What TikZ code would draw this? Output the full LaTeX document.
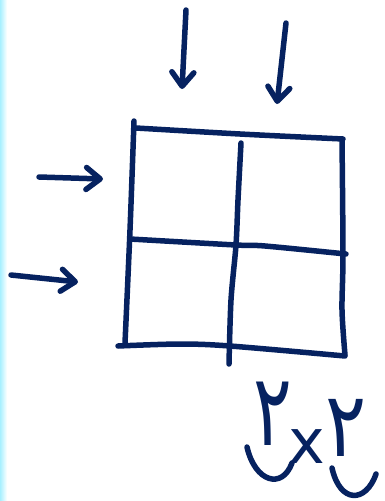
\documentclass[tikz,border=0pt]{standalone}
\usepackage{fontspec}
\usepackage{graphicx}
\usetikzlibrary{arrows.meta}
\newfontfamily\digitfont{DejaVu Sans}
\definecolor{inkblue}{HTML}{062260}
\definecolor{edgecyan}{HTML}{A8F0FF}
\tikzset{
  penline/.style={draw=inkblue, line width=5.5pt, line cap=round, line join=round},
  penarrow/.style={penline, -{Straight Barb[length=14pt,width=22pt,round]}},
  penmark/.style={text=inkblue, inner sep=0pt, font=\digitfont\fontsize{#1}{#1}\selectfont},
}

\begin{document}
\begin{tikzpicture}[x=1pt,y=-1pt]
  \useasboundingbox (0,0) rectangle (385,501);
  \fill[white] (0,0) rectangle (385,501);
  \shade[left color=edgecyan, right color=white] (0,0) rectangle (7,501);

  \coordinate (colA start) at (186,10);
  \coordinate (colA end) at (182,89);
  \coordinate (colB start) at (286,23);
  \coordinate (colB end) at (277,104);
  \coordinate (rowA start) at (39,177);
  \coordinate (rowA end) at (103,179);
  \coordinate (rowB start) at (11,275);
  \coordinate (rowB end) at (78,282);

  \draw[penline] plot[smooth] coordinates {(134,121) (130,230) (125,343)};
  \draw[penline] plot[smooth] coordinates {(136,128) (240,134) (343,139)};
  \draw[penline] plot[smooth] coordinates {(342,139) (343,255) (342,310) (345,355)};
  \draw[penline] plot[smooth] coordinates {(118,346) (180,344) (230,346) (345,356)};
  \draw[penline] plot[smooth] coordinates {(241,143) (238,200) (236,245) (231,300) (229,364)};
  \draw[penline] plot[smooth] coordinates {(130,239) (236,245) (265,246) (346,254)};

  \foreach \a/\b in {colA start/colA end,colB start/colB end,rowA start/rowA end,rowB start/rowB end}
    \draw[penarrow] (\a) -- (\b);

  \node[penmark=100] (leftnum) at (273,414) {\scalebox{0.72}[1]{۲}};
  \node[penmark=62] (times) at (307,447) {x};
  \node[penmark=90] (rightnum) at (346,428) {\scalebox{0.85}[1]{۲}};

  \draw[penline] (247,447) .. controls (255,482) and (282,490) .. (292,463);
  \draw[penline] (332,468) .. controls (340,504) and (366,503) .. (376,474);
\end{tikzpicture}
\end{document}
